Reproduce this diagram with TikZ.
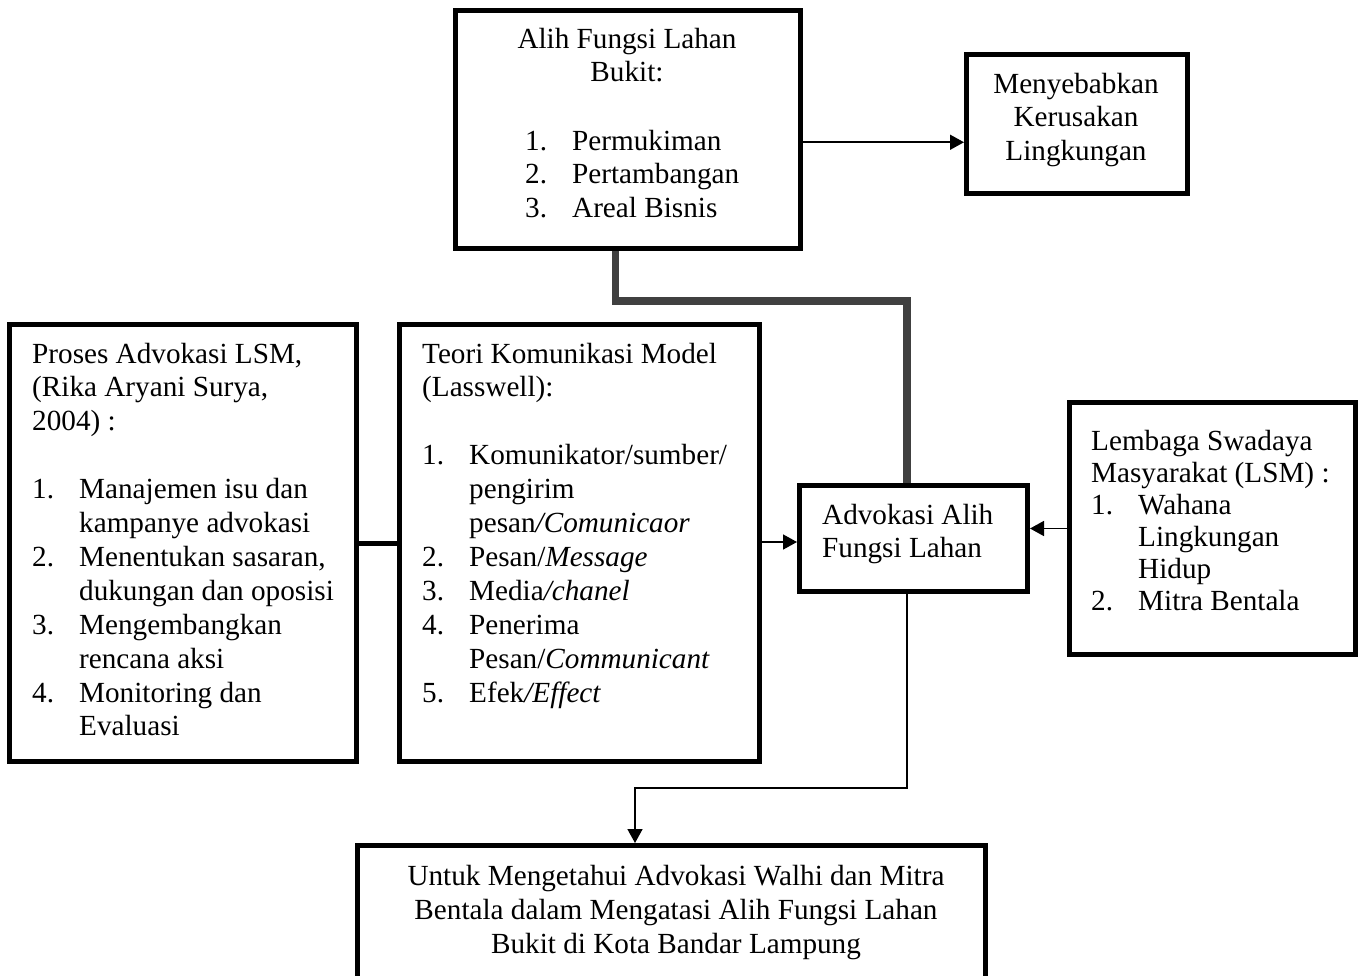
\documentclass[tikz,border=0pt]{standalone}
\usepackage{fontspec}
\setmainfont{Liberation Serif}
\usetikzlibrary{arrows.meta,calc}
\definecolor{lineGray}{RGB}{64,64,64}
\newcommand{\itm}[1]{\makebox[47pt][l]{#1}}
\newcommand{\ind}{\hspace*{47pt}}
\begin{document}
\begin{tikzpicture}[x=1pt,y=-1pt,
  mybox/.style={draw, line width=5pt, inner sep=0pt, fill=none},
  txtL/.style={inner sep=0pt, anchor=base west, font={\fontsize{29.2}{33.9}\selectfont}},
  txtC/.style={inner sep=0pt, anchor=base, font={\fontsize{29.2}{33.9}\selectfont}},
  arr/.style={line width=1.6pt, -{Triangle[length=14pt,width=15pt]}},
  grayconn/.style={line width=7.5pt, draw=lineGray, line join=miter},
  blackconn/.style={line width=5pt}]
\useasboundingbox (0,0) rectangle (1366,975);
\clip (0,0) rectangle (1366,975);
\fill[white] (0,0) rectangle (1366,975);

% boxes
\node[mybox, minimum width=345pt, minimum height=238.5pt] (top) at (627.5,129.25) {};
\node[mybox, minimum width=221pt, minimum height=139pt] (men) at (1077,124) {};
\node[mybox, minimum width=346.5pt, minimum height=437pt] (left) at (182.75,543) {};
\node[mybox, minimum width=360pt, minimum height=437pt] (teori) at (579.5,543) {};
\node[mybox, minimum width=228pt, minimum height=106pt] (adv) at (913.5,538.5) {};
\node[mybox, minimum width=286pt, minimum height=252pt] (lsm) at (1212.5,528.5) {};
\node[mybox, minimum width=628pt, minimum height=160pt] (bot) at (671.5,925.5) {};

% texts
\node[txtC] (tTopTitle) at (627,48) {\parbox[t]{330pt}{\centering Alih Fungsi Lahan\\Bukit:}};
\node[txtL] (tTopItems) at (525,150) {\parbox[t]{300pt}{\raggedright
  \itm{1.}Permukiman\\ \itm{2.}Pertambangan\\ \itm{3.}Areal Bisnis}};
\node[txtC] (tMen) at (1076,93) {\fontsize{29.2}{33.5}\selectfont\parbox[t]{215pt}{\centering Menyebabkan\\Kerusakan\\Lingkungan}};
\node[txtL] (tLeft) at (32,363) {\parbox[t]{330pt}{\raggedright
  Proses Advokasi LSM,\\(Rika Aryani Surya,\\2004) :\\ \mbox{}\\
  \itm{1.}Manajemen isu dan\\ \ind kampanye advokasi\\
  \itm{2.}Menentukan sasaran,\\ \ind dukungan dan oposisi\\
  \itm{3.}Mengembangkan\\ \ind rencana aksi\\
  \itm{4.}Monitoring dan\\ \ind Evaluasi}};
\node[txtL] (tTeori) at (422,363) {\parbox[t]{340pt}{\raggedright
  Teori Komunikasi Model\\(Lasswell):\\ \mbox{}\\
  \itm{1.}Komunikator/sumber/\\ \ind pengirim\\ \ind pesan\textit{/Comunicaor}\\
  \itm{2.}Pesan/\textit{Message}\\
  \itm{3.}Media\textit{/chanel}\\
  \itm{4.}Penerima\\ \ind Pesan/\textit{Communicant}\\
  \itm{5.}Efek\textit{/Effect}}};
\node[txtL] (tAdv) at (822,524) {\parbox[t]{210pt}{\raggedright Advokasi Alih\\Fungsi Lahan}};
\node[txtL] (tLsm) at (1091,450) {\fontsize{29.2}{32}\selectfont\parbox[t]{270pt}{\raggedright
  Lembaga Swadaya\\Masyarakat (LSM) :\\
  \itm{1.}Wahana\\ \ind Lingkungan\\ \ind Hidup\\
  \itm{2.}Mitra Bentala}};
\node[txtC] (tBot) at (676,885) {\fontsize{29.2}{34}\selectfont\parbox[t]{620pt}{\centering
  Untuk Mengetahui Advokasi Walhi dan Mitra\\
  Bentala dalam Mengatasi Alih Fungsi Lahan\\
  Bukit di Kota Bandar Lampung}};

% connectors
\coordinate (a1) at ([yshift=-13pt]top.east);
\draw[arr] (a1) -- (a1 -| men.west);

\coordinate (g1) at ([xshift=-12pt]top.south);
\coordinate (g2) at ([xshift=-6.5pt]adv.north);
\draw[grayconn] (g1) -- ++(0,50) -| (g2);

\draw[blackconn] (left.east) -- (left.east -| teori.west);

\coordinate (b1) at ([yshift=-3.5pt]adv.west);
\draw[arr] (b1 -| teori.east) -- (b1);

\draw[arr] (lsm.west) -- (lsm.west -| adv.east);

\coordinate (t1) at ([xshift=-6.5pt]adv.south);
\coordinate (t2) at ([xshift=-36.5pt]bot.north);
\draw[arr] (t1) -- ++(0,194) -| (t2);
\end{tikzpicture}
\end{document}
